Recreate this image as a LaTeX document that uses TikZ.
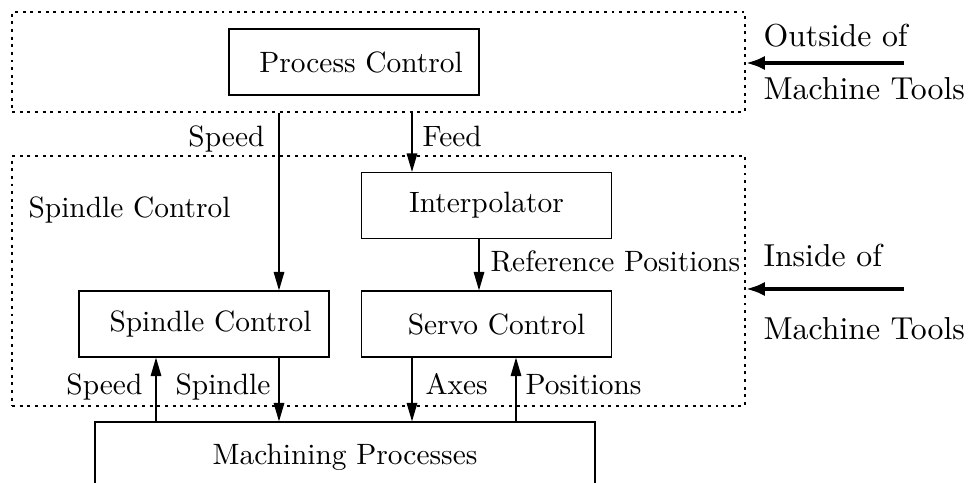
\documentclass[tikz,border=0pt]{standalone}
\usetikzlibrary{arrows.meta}
\tikzset{
  blk/.style={draw, line width=0.4pt, inner sep=0pt, minimum width=250*0.34pt, minimum height=66*0.34pt},
  zone/.style={draw, line width=0.5pt, dash pattern=on 1pt off 1.6pt, inner sep=0pt},
  flow/.style={-{Triangle[length=6.3pt,width=3.6pt]}, line width=0.45pt},
  bigarr/.style={-{Latex[length=6.5pt,width=4.8pt]}, line width=1.4pt},
  lbl/.style={inner sep=0pt},
  side/.style={inner sep=0pt, anchor=base west, font=\fontsize{10.8}{13}\selectfont}
}
\begin{document}
\begin{tikzpicture}[x=0.34pt, y=-0.34pt]
  \clip (0,0) rectangle (972,483);
  % outside / inside of the machine tool
  \node[zone, minimum width=733*0.34pt, minimum height=100*0.34pt] (outer) at (378.5,62) {};
  \node[zone, minimum width=733*0.34pt, minimum height=250*0.34pt] (inner) at (378.5,281) {};
  \node[lbl, anchor=base west] (spzone) at (28,218) {Spindle Control};
  % blocks
  \node[blk] (pc) at (354,62) {\hspace*{4.8pt}Process Control};
  \node[blk] (ip) at (486.5,205.5) {Interpolator};
  \node[blk] (sv) at (486.5,324) {\hspace*{6.8pt}Servo Control};
  \node[blk] (spc) at (204,324) {\hspace*{4.4pt}Spindle Control};
  \node[blk, minimum width=500*0.34pt, minimum height=70*0.34pt] (mp) at (345,457) {Machining Processes};
  % x positions of the signal lines
  \coordinate (xa) at (156,0);
  \coordinate (xb) at (279,0);
  \coordinate (xc) at (412,0);
  \coordinate (xd) at (516,0);
  \coordinate (xr) at (479,0);
  % signals
  \draw[flow] (xb |- outer.south) -- (xb |- spc.north);
  \draw[flow] (xc |- outer.south) -- (xc |- ip.north);
  \draw[flow] (xr |- ip.south) -- (xr |- sv.north);
  \draw[flow] (xa |- mp.north) -- (xa |- spc.south);
  \draw[flow] (xb |- spc.south) -- (xb |- mp.north);
  \draw[flow] (xc |- sv.south) -- (xc |- mp.north);
  \draw[flow] (xd |- mp.north) -- (xd |- sv.south);
  \node[lbl, anchor=base east] (speed1) at (265,147) {Speed};
  \node[lbl, anchor=base west] (feed) at (422,147) {Feed};
  \node[lbl, anchor=base west] (refpos) at (490,272) {Reference Positions};
  \node[lbl, anchor=base east] (speed2) at (143,395) {Speed};
  \node[lbl, anchor=base west] (spindle) at (175,395) {Spindle};
  \node[lbl, anchor=base west] (axes) at (425,395) {Axes};
  \node[lbl, anchor=base west] (pos) at (525,395) {Positions};
  % right side notes
  \node[side] (out1) at (763,47) {Outside of};
  \node[side] (out2) at (763,100) {Machine Tools};
  \node[side] (in1) at (763,267) {Inside of};
  \node[side] (in2) at (763,340) {Machine Tools};
  \coordinate (otail) at (904,63);
  \coordinate (itail) at (904,289);
  \draw[bigarr] (otail) -- (otail -| outer.east);
  \draw[bigarr] (itail) -- (itail -| inner.east);
\end{tikzpicture}
\end{document}
